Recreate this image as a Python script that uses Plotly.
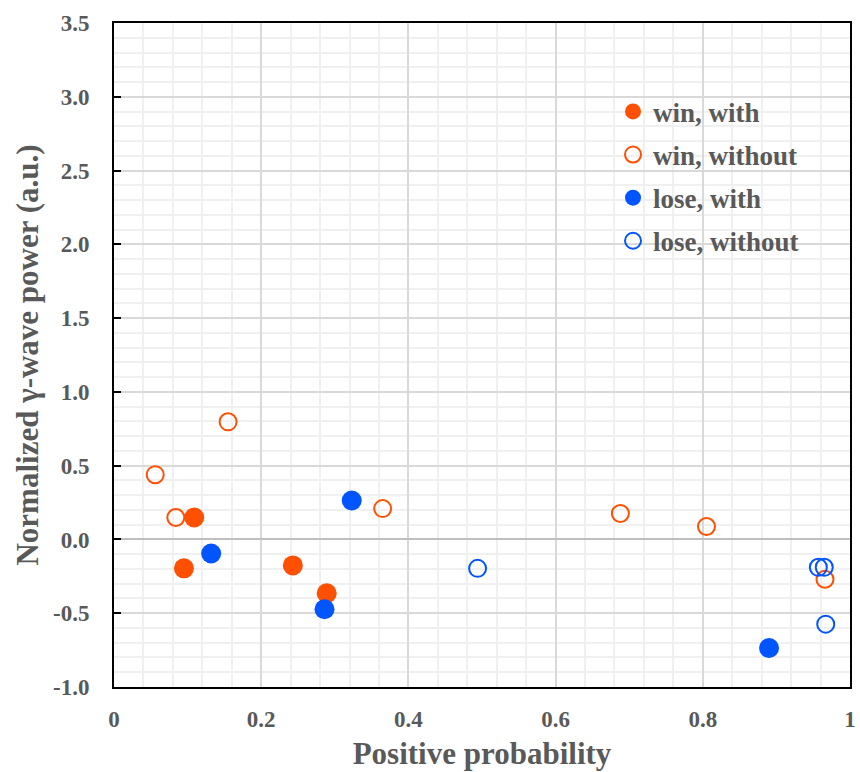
import plotly.graph_objects as go

# Data
win_with_x = [0.109, 0.095, 0.243, 0.289]
win_with_y = [0.149, -0.196, -0.176, -0.365]

win_without_x = [0.056, 0.084, 0.155, 0.365, 0.688, 0.805, 0.966]
win_without_y = [0.439, 0.149, 0.797, 0.209, 0.176, 0.088, -0.27]

lose_with_x = [0.132, 0.323, 0.286, 0.890]
lose_with_y = [-0.095, 0.264, -0.473, -0.736]

lose_without_x = [0.494, 0.957, 0.965, 0.967]
lose_without_y = [-0.196, -0.189, -0.189, -0.574]

y_tickvals = [-1.0, -0.5, 0.0, 0.5, 1.0, 1.5, 2.0, 2.5, 3.0, 3.5]
y_ticktext = ["-1.0", "-0.5", "0.0", "0.5", "1.0", "1.5", "2.0", "2.5", "3.0", "3.5"]
x_tickvals = [0, 0.2, 0.4, 0.6, 0.8, 1.0]
x_ticktext = ["0", "0.2", "0.4", "0.6", "0.8", "1"]

ORANGE = "#FF4F00"
BLUE = "#0055FF"
GRAY_TXT = "#595959"
FONT = "Liberation Serif"

fig = go.Figure()
fig.add_trace(go.Scatter(x=win_with_x, y=win_with_y, mode="markers", name="win, with",
                         legendgroup="a",
                         marker=dict(size=20, color=ORANGE, line=dict(width=0))))
fig.add_trace(go.Scatter(x=win_without_x, y=win_without_y, mode="markers", name="win, without",
                         legendgroup="b",
                         marker=dict(size=17, color="rgba(255,255,255,0)", line=dict(width=2, color=ORANGE))))
fig.add_trace(go.Scatter(x=lose_with_x, y=lose_with_y, mode="markers", name="lose, with",
                         legendgroup="c",
                         marker=dict(size=20, color=BLUE, line=dict(width=0))))
fig.add_trace(go.Scatter(x=lose_without_x, y=lose_without_y, mode="markers", name="lose, without",
                         legendgroup="d",
                         marker=dict(size=17, color="rgba(255,255,255,0)", line=dict(width=2, color=BLUE))))

fig.update_layout(
    width=867, height=778,
    margin=dict(l=114, r=11, t=16, b=91),
    paper_bgcolor="white", plot_bgcolor="white",
    font=dict(family=FONT, color=GRAY_TXT),
    legend=dict(x=0.678, y=0.903, xanchor="left", yanchor="top",
                bgcolor="rgba(0,0,0,0)", tracegroupgap=5,
                font=dict(family=FONT, size=27, color=GRAY_TXT, weight="bold")),
    showlegend=True,
)
fig.update_xaxes(
    range=[0, 1], tickvals=x_tickvals, ticktext=x_ticktext,
    showline=True, linecolor="black", linewidth=2, mirror=True,
    showgrid=True, gridcolor="#D9D9D9", gridwidth=1.5,
    minor=dict(dtick=0.04, tick0=0, showgrid=True, gridcolor="#F0F0F0", gridwidth=1.5),
    zeroline=False, ticks="",
    tickfont=dict(family=FONT, size=23, color=GRAY_TXT, weight="bold"),
    ticklabelstandoff=10,
    title=dict(text="Positive probability", standoff=12,
               font=dict(family=FONT, size=31, color=GRAY_TXT, weight="bold")),
)
fig.update_yaxes(
    range=[-1, 3.5], tickvals=y_tickvals, ticktext=y_ticktext,
    showline=True, linecolor="black", linewidth=2, mirror=True,
    showgrid=True, gridcolor="#D9D9D9", gridwidth=1.5,
    minor=dict(dtick=0.1, tick0=0, showgrid=True, gridcolor="#F0F0F0", gridwidth=1.5),
    zeroline=True, zerolinecolor="#BFBFBF", zerolinewidth=2,
    ticks="inside", ticklen=7, tickcolor="black", tickwidth=2,
    tickfont=dict(family=FONT, size=23, color=GRAY_TXT, weight="bold"),
    ticklabelstandoff=18,
    title=dict(text="Normalized γ-wave power (a.u.)", standoff=5,
               font=dict(family=FONT, size=31, color=GRAY_TXT, weight="bold")),
)

post = (
    "document.documentElement.style.margin='0';"
    "document.body.style.margin='0';"
    "document.documentElement.style.overflow='hidden';"
    "document.body.style.overflow='hidden';"
)
fig.write_html("out.html", post_script=post, config={"displayModeBar": False})
